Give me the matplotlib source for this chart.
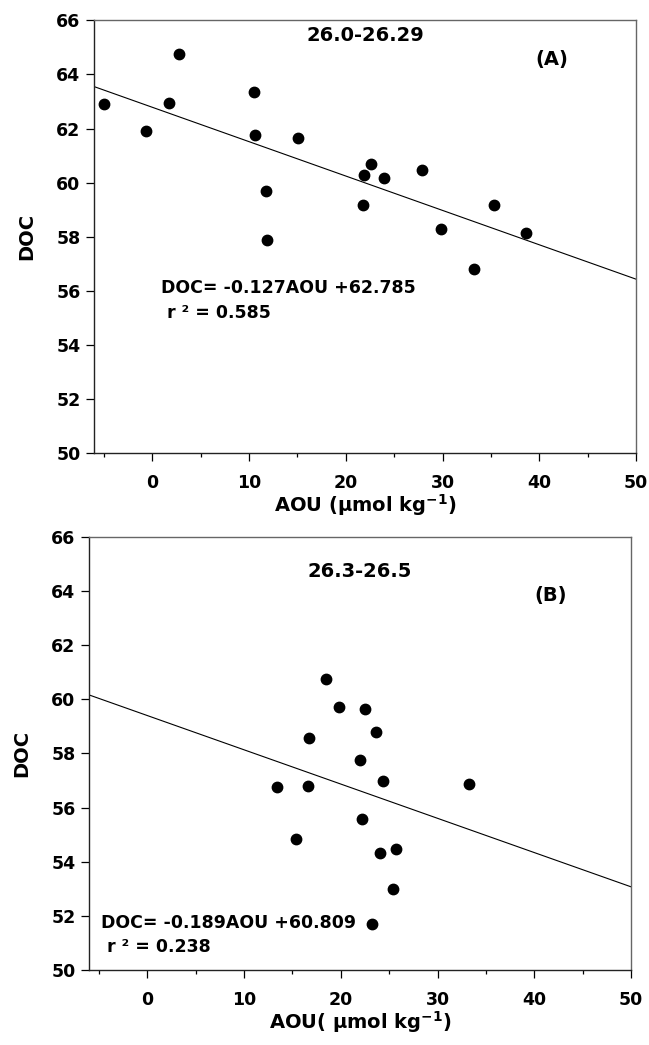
import numpy as np
import matplotlib
matplotlib.use("Agg")
import matplotlib.pyplot as plt
from matplotlib.ticker import MultipleLocator

plt.rcParams['font.family'] = ['DejaVu Sans']
plt.rcParams['font.weight'] = 'bold'

# panel A: sigma 26.0-26.29
aou_a = [-5.0, -0.65, 1.7, 2.8, 10.5, 10.6, 15.1, 11.8, 11.9, 22.6, 21.9, 23.9,
         27.9, 21.75, 35.3, 29.8, 38.6, 33.2]
doc_a = [62.92, 61.91, 62.94, 64.74, 63.35, 61.77, 61.66, 59.70, 57.89, 60.69,
         60.28, 60.16, 60.48, 59.16, 59.16, 58.30, 58.15, 56.80]
fit_a = (-0.127, 62.785)

# panel B: sigma 26.3-26.5
aou_b = [18.5, 16.7, 13.4, 16.65, 19.8, 22.5, 23.6, 22.0, 24.4, 33.25, 22.2,
         24.1, 25.7, 25.4, 23.2, 15.4]
doc_b = [60.75, 58.58, 56.75, 56.80, 59.72, 59.64, 58.80, 57.77, 57.0, 56.86,
         55.59, 54.32, 54.49, 53.0, 51.71, 54.86]
fit_b = (-0.1264, 59.40)  # line as drawn in the figure

panels = [
    dict(x=aou_a, y=doc_a, fit=fit_a, title='26.0-26.29', tag='(A)',
         eq='DOC= -0.127AOU +62.785', r2=' r \u00b2 = 0.585',
         rect=[0.1453, 0.5662, 0.8347, 0.4144],
         title_xy=(22.0, 65.45), tag_xy=(41.3, 64.55), eq_xy=(0.9, 56.1), r2_xy=(0.9, 55.2),
         xlabel=r'AOU ($\mathbf{\mu}$mol kg$^{\mathbf{-1}}$)'),
    dict(x=aou_b, y=doc_b, fit=fit_b, title='26.3-26.5', tag='(B)',
         eq='DOC= -0.189AOU +60.809', r2=' r \u00b2 = 0.238',
         rect=[0.1376, 0.0715, 0.8347, 0.4149],
         title_xy=(22.0, 64.72), tag_xy=(41.7, 63.84), eq_xy=(-4.8, 51.73), r2_xy=(-4.8, 50.85),
         xlabel=r'AOU( $\mathbf{\mu}$mol kg$^{\mathbf{-1}}$)'),
]

fig = plt.figure(figsize=(6.49, 10.45), dpi=100)

for p in panels:
    ax = fig.add_axes(p['rect'])
    ax.scatter(p['x'], p['y'], s=56, color='black', zorder=3)
    xs = np.array([-6, 50])
    ax.plot(xs, p['fit'][0] * xs + p['fit'][1], color='black', lw=0.8)

    ax.set_xlim(-6, 50)
    ax.set_ylim(50, 66)
    ax.xaxis.set_major_locator(MultipleLocator(10))
    ax.xaxis.set_minor_locator(MultipleLocator(5))
    ax.yaxis.set_major_locator(MultipleLocator(2))
    ax.tick_params(axis='both', which='major', direction='out', length=6, width=0.9,
                   labelsize=12.5, pad=4)
    ax.tick_params(axis='x', which='major', pad=9)
    ax.tick_params(axis='x', which='minor', direction='out', length=3, width=0.9)
    for lab in ax.get_xticklabels() + ax.get_yticklabels():
        lab.set_fontweight('bold')
    for side in ['left', 'bottom']:
        ax.spines[side].set_color('#222222')
    for side in ['top', 'right']:
        ax.spines[side].set_color('#666666')
    for s in ax.spines.values():
        s.set_linewidth(1.0)

    ax.set_ylabel('DOC', fontsize=14, fontweight='bold', labelpad=14)
    ax.set_xlabel(p['xlabel'], fontsize=14, fontweight='bold', labelpad=0)

    ax.text(*p['title_xy'], p['title'], fontsize=14, fontweight='bold', ha='center', va='center')
    ax.text(*p['tag_xy'], p['tag'], fontsize=14, fontweight='bold', ha='center', va='center')
    ax.text(*p['eq_xy'], p['eq'], fontsize=12.5, fontweight='bold', ha='left', va='center')
    ax.text(*p['r2_xy'], p['r2'], fontsize=12.5, fontweight='bold', ha='left', va='center')

fig.savefig('out.png', dpi=100)
